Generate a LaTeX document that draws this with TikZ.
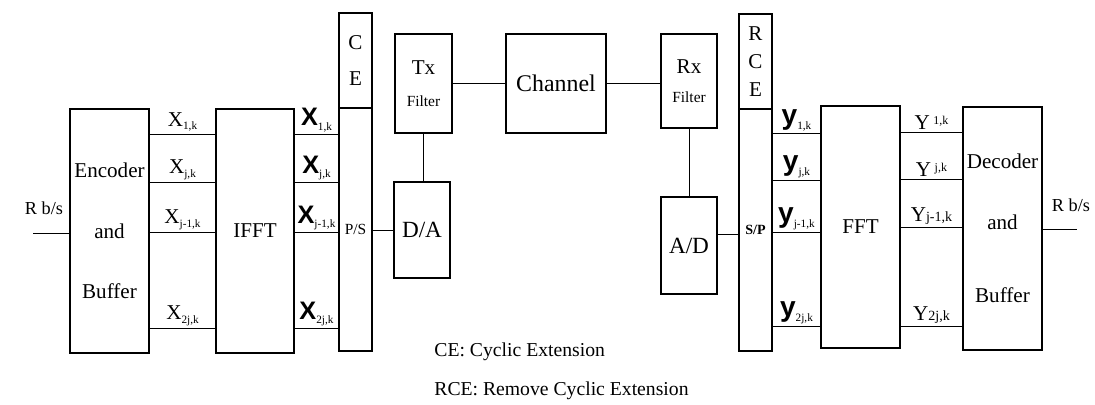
\documentclass[tikz,border=0pt]{standalone}
\usepackage{fontspec}
\setmainfont{Liberation Serif}
\setsansfont{Liberation Sans}
\usetikzlibrary{positioning}
\newcommand{\lowix}[1]{\raisebox{-0.35ex}{\fontsize{8}{9}\selectfont #1}}
\newcommand{\upix}[1]{\raisebox{0.55ex}{\fontsize{8.5}{9}\selectfont #1}}
\tikzset{
  blk/.style={draw, rectangle, line width=0.9pt, align=center, inner sep=0pt, font=\fontsize{15}{17}\selectfont},
  lnk/.style={line width=0.5pt},
  lbl/.style={font=\fontsize{15}{17}\selectfont, inner sep=1.5pt},
  bigx/.style={font=\sffamily\bfseries\fontsize{18}{20}\selectfont, inner sep=1pt},
  bigy/.style={font=\sffamily\bfseries\fontsize{20}{22}\selectfont, inner sep=1pt},
  small/.style={font=\fontsize{11}{13}\selectfont}
}
\begin{document}
\begin{tikzpicture}[x=0.25mm, y=-0.25mm]
\useasboundingbox (0,0) rectangle (1095,405);

% transmitter
\node[blk, minimum width=19.75mm, minimum height=61mm] (enc) at (109.5,231) {Encoder\\[26pt]and\\[26pt]Buffer};
\node[blk, minimum width=19.5mm, minimum height=61mm] (ifft) at (255,231) {IFFT};
\node[blk, minimum width=8.25mm, minimum height=23.75mm] (ce) at (355.5,60.5) {C\\[9pt]E};
\node[blk, minimum width=8.25mm, minimum height=60.75mm, font=\fontsize{11}{13}\selectfont] (ps) at (355.5,229.5) {P/S};
\node[blk, minimum width=14.25mm, minimum height=24.75mm] (txf) at (423.5,83.5) {Tx\\[6pt]{\fontsize{11}{13}\selectfont Filter}};
\node[blk, minimum width=14mm, minimum height=24mm, font=\fontsize{16.5}{18}\selectfont] (da) at (422,230) {D/A};

% channel
\node[blk, minimum width=25mm, minimum height=24.75mm, font=\fontsize{17}{19}\selectfont] (chan) at (556,83.5) {Channel};

% receiver
\node[blk, minimum width=14mm, minimum height=23.5mm] (rxf) at (689,81) {Rx\\[4pt]{\fontsize{11}{13}\selectfont Filter}};
\node[blk, minimum width=14mm, minimum height=24.25mm, font=\fontsize{16.5}{18}\selectfont] (ad) at (689,245.5) {A/D};
\node[blk, minimum width=8.25mm, minimum height=23.75mm] (rce) at (755.5,61.5) {R\\[3pt]C\\[3pt]E};
\node[blk, minimum width=8.25mm, minimum height=60.5mm, font=\fontsize{10}{12}\selectfont\bfseries] (sp) at (755.5,230) {S/P};
\node[blk, minimum width=19.75mm, minimum height=60.5mm] (fft) at (860.5,227) {FFT};
\node[blk, minimum width=19.75mm, minimum height=60.75mm] (dec) at (1002.5,228.5) {Decoder\\[26pt]and\\[35pt]Buffer};

\coordinate (in) at (33,233);
\coordinate (out) at (1077,229);
\node[small, font=\fontsize{13}{15}\selectfont] (rin) at (44,208) {R b/s};
\node[small, font=\fontsize{13}{15}\selectfont] (rout) at (1071,205) {R b/s};

\draw[lnk] (in) -- (in -| enc.west);
\draw[lnk] (enc.east |- 0,134) -- (ifft.west |- 0,134) node[midway, above, lbl] {X\lowix{1,k}};
\draw[lnk] (enc.east |- 0,182) -- (ifft.west |- 0,182) node[midway, above, lbl] {X\lowix{j,k}};
\draw[lnk] (enc.east |- 0,232) -- (ifft.west |- 0,232) node[midway, above, lbl] {X\lowix{j-1,k}};
\draw[lnk] (enc.east |- 0,328) -- (ifft.west |- 0,328) node[midway, above, lbl] {X\lowix{2j,k}};

\draw[lnk] (ifft.east |- 0,134) -- (ps.west |- 0,134) node[midway, above, bigx] {X\lowix{\normalfont 1,k}};
\draw[lnk] (ifft.east |- 0,182) -- (ps.west |- 0,182) node[midway, above, bigx] {X\lowix{\normalfont j,k}};
\draw[lnk] (ifft.east |- 0,232) -- (ps.west |- 0,232) node[midway, above, bigx] {X\lowix{\normalfont j-1,k}};
\draw[lnk] (ifft.east |- 0,328) -- (ps.west |- 0,328) node[midway, above, bigx] {X\lowix{\normalfont 2j,k}};

\draw[lnk] (da.west -| ps.east) -- (da.west);
\draw[lnk] (txf.south) -- (txf.south |- da.north);
\draw[lnk] (txf.east) -- (txf.east -| chan.west);
\draw[lnk] (chan.east) -- (chan.east -| rxf.west);
\draw[lnk] (rxf.south) -- (ad.north);
\draw[lnk] ([yshift=2.75mm]ad.east) -- ([yshift=2.75mm]ad.east -| sp.west);

\draw[lnk] (sp.east |- 0,133) -- (fft.west |- 0,133) node[midway, above, bigy] {y\lowix{\normalfont 1,k}};
\draw[lnk] (sp.east |- 0,180) -- (fft.west |- 0,180) node[midway, above, bigy] {y\lowix{\normalfont j,k}};
\draw[lnk] (sp.east |- 0,232) -- (fft.west |- 0,232) node[midway, above, bigy] {y\lowix{\normalfont j-1,k}};
\draw[lnk] (sp.east |- 0,326) -- (fft.west |- 0,326) node[midway, above, bigy] {y\lowix{\normalfont 2j,k}};

\draw[lnk] (fft.east |- 0,132) -- (dec.west |- 0,132) node[midway, above, lbl] {Y\,\upix{1,k}};
\draw[lnk] (fft.east |- 0,179) -- (dec.west |- 0,179) node[midway, above, lbl] {Y\,\upix{j,k}};
\draw[lnk] (fft.east |- 0,227) -- (dec.west |- 0,227) node[midway, above, lbl] {Y{\fontsize{10}{12}\selectfont j-1,k}};
\draw[lnk] (fft.east |- 0,326) -- (dec.west |- 0,326) node[midway, above, lbl] {Y{\fontsize{10}{12}\selectfont 2j,k}};

\draw[lnk] (dec.east |- out) -- (out);

% legend
\node[lbl, font=\fontsize{14}{16}\selectfont, anchor=west] (celeg) at (432,352) {CE: Cyclic Extension};
\node[lbl, font=\fontsize{14}{16}\selectfont, anchor=west] (rceleg) at (432,391) {RCE: Remove Cyclic Extension};
\end{tikzpicture}
\end{document}
